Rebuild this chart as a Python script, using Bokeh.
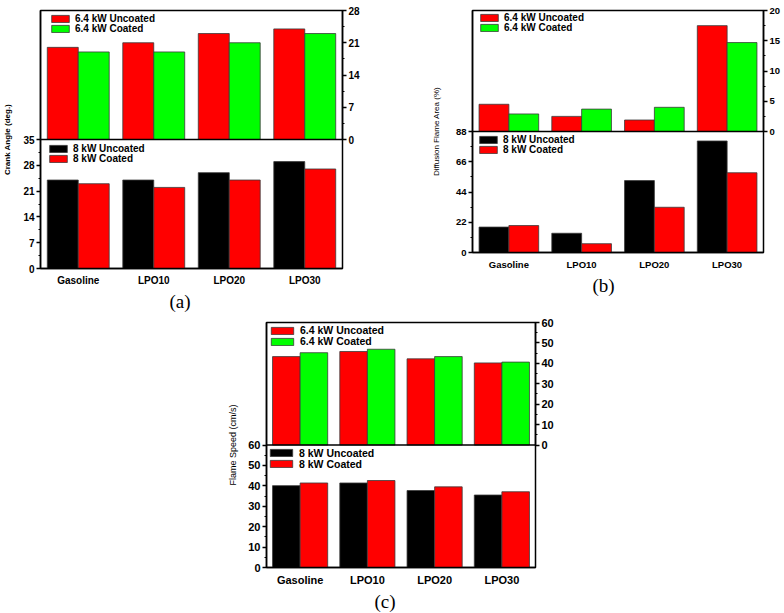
from bokeh.plotting import figure
from bokeh.models import (FactorRange, Range1d, LinearAxis, FixedTicker, Legend,
                          LegendItem, Span, Title, Spacer, ColumnDataSource)
from bokeh.transform import dodge
from bokeh.layouts import column, row
from bokeh.embed import file_html
from bokeh.resources import INLINE

fuels = ["Gasoline", "LPO10", "LPO20", "LPO30"]

# (a) Crank angle (deg.)
a_64_uncoated = [20, 21, 23, 24]
a_64_coated = [19, 19, 21, 23]
a_8_uncoated = [24, 24, 26, 29]
a_8_coated = [23, 22, 24, 27]
a_left_ticks = [0, 7, 14, 21, 28, 35]
a_right_ticks = [0, 7, 14, 21, 28]

# (b) Diffusion flame area (%)
b_64_uncoated = [4.5, 2.5, 1.9, 17.5]
b_64_coated = [2.9, 3.7, 4.0, 14.7]
b_8_uncoated = [18.5, 14.0, 52.3, 81.1]
b_8_coated = [19.6, 6.4, 32.9, 58.0]
b_left_ticks = [0, 22, 44, 66, 88]
b_right_ticks = [0, 5, 10, 15, 20]

# (c) Flame speed (cm/s)
c_64_uncoated = [43.3, 45.8, 42.2, 40.2]
c_64_coated = [45.2, 46.9, 43.3, 40.6]
c_8_uncoated = [40.1, 41.4, 37.7, 35.5]
c_8_coated = [41.4, 42.6, 39.5, 37.1]
c_left_ticks = [0, 10, 20, 30, 40, 50, 60]
c_right_ticks = [0, 10, 20, 30, 40, 50, 60]

legend_upper = ["6.4 kW Uncoated", "6.4 kW Coated"]
legend_lower = ["8 kW Uncoated", "8 kW Coated"]

FONT = "Liberation Sans"
RED = "#ff0000"
GREEN = "#00ff00"
BLACK = "#000000"
EDGE = "#3a3a3a"


def minors(ticks):
    return [(ticks[i] + ticks[i + 1]) / 2 for i in range(len(ticks) - 1)]


def style_axis(ax, font_px):
    ax.axis_line_width = 1.5
    ax.axis_line_color = "black"
    ax.major_tick_line_width = 1.5
    ax.major_tick_out = 4
    ax.major_tick_in = 0
    ax.minor_tick_line_width = 1.2
    ax.minor_tick_out = 2
    ax.minor_tick_in = 0
    ax.major_label_standoff = 2
    ax.major_label_text_font = FONT
    ax.major_label_text_font_style = "bold"
    ax.major_label_text_font_size = font_px
    ax.major_label_text_color = "black"


def panel(tag, ylabel, up_unc, up_coat, lo_unc, lo_coat, left_ticks, right_ticks,
          width, height, borders, tick_px, legend_px, row_h, pitch, glyph_w,
          ylabel_style, ylabel_px, ylabel_standoff, title_standoff, title_offset,
          leg_up, leg_lo):
    bl, br, bt, bb = borders
    frame_h = height - bt - bb
    left_max = left_ticks[-1]
    right_max = right_ticks[-1]
    p = figure(x_range=FactorRange(factors=fuels, range_padding=0),
               y_range=Range1d(0, 2 * left_max),
               width=width, height=height, output_backend="svg",
               toolbar_location=None,
               min_border_left=bl, min_border_right=br,
               min_border_top=bt, min_border_bottom=bb)
    p.extra_y_ranges = {"upper": Range1d(-right_max, right_max)}
    p.xgrid.visible = False
    p.ygrid.visible = False
    p.outline_line_color = "black"
    p.outline_line_width = 1.5
    p.background_fill_color = "white"
    p.border_fill_color = "white"

    src = ColumnDataSource(dict(fuel=fuels, up_unc=up_unc, up_coat=up_coat,
                                lo_unc=lo_unc, lo_coat=lo_coat))
    w = 0.41
    r_uu = p.vbar(x=dodge("fuel", -w / 2, range=p.x_range), top="up_unc", bottom=0,
                  width=w, source=src, y_range_name="upper",
                  fill_color=RED, line_color=EDGE, line_width=0.8)
    r_uc = p.vbar(x=dodge("fuel", w / 2, range=p.x_range), top="up_coat", bottom=0,
                  width=w, source=src, y_range_name="upper",
                  fill_color=GREEN, line_color=EDGE, line_width=0.8)
    r_lu = p.vbar(x=dodge("fuel", -w / 2, range=p.x_range), top="lo_unc", bottom=0,
                  width=w, source=src,
                  fill_color=BLACK, line_color=EDGE, line_width=0.8)
    r_lc = p.vbar(x=dodge("fuel", w / 2, range=p.x_range), top="lo_coat", bottom=0,
                  width=w, source=src,
                  fill_color=RED, line_color=EDGE, line_width=0.8)

    p.add_layout(Span(location=left_max, dimension="width",
                      line_color="black", line_width=1.5))

    # left axis (lower block)
    la = p.yaxis[0]
    la.ticker = FixedTicker(ticks=left_ticks, minor_ticks=minors(left_ticks))
    style_axis(la, tick_px)
    la.axis_label = ylabel
    la.axis_label_text_font = FONT
    la.axis_label_text_font_style = ylabel_style
    la.axis_label_text_font_size = ylabel_px
    la.axis_label_text_color = "black"
    la.axis_label_standoff = ylabel_standoff

    # right axis (upper block)
    ra = LinearAxis(y_range_name="upper",
                    ticker=FixedTicker(ticks=right_ticks, minor_ticks=minors(right_ticks)),
                    bounds=(0, right_max))
    style_axis(ra, tick_px)
    p.add_layout(ra, "right")

    xa = p.xaxis[0]
    style_axis(xa, tick_px)
    xa.major_tick_line_color = None

    def one_item(label, rend, x, top_from_frame_top):
        lg = Legend(items=[LegendItem(label=label, renderers=[rend])],
                    location=(x, frame_h - top_from_frame_top - row_h),
                    glyph_width=glyph_w, glyph_height=9,
                    label_height=row_h, label_standoff=4, spacing=0,
                    padding=0, margin=0,
                    border_line_color=None, background_fill_alpha=0,
                    label_text_font=FONT, label_text_font_style="bold",
                    label_text_font_size=legend_px, label_text_color="black")
        p.add_layout(lg)

    ux, uy = leg_up
    lx, ly = leg_lo
    one_item(legend_upper[0], r_uu, ux, uy)
    one_item(legend_upper[1], r_uc, ux, uy + pitch)
    one_item(legend_lower[0], r_lu, lx, frame_h / 2 + ly)
    one_item(legend_lower[1], r_lc, lx, frame_h / 2 + ly + pitch)

    p.add_layout(Title(text=tag, align="left", offset=title_offset,
                       text_font="Liberation Serif", text_font_style="normal",
                       text_font_size="19px", text_color="black",
                       standoff=title_standoff), "below")
    return p


# panel (a): frame x 38..342, y 10..268
pa = panel("(a)", "Crank Angle (deg.)", a_64_uncoated, a_64_coated, a_8_uncoated,
           a_8_coated, a_left_ticks, a_right_ticks, 367, 315, (38, 25, 10, 47),
           "10px", "10px", 12, 10, 22, "bold", "8px", 8, 1, 129, (9, 2), (7, 3))
# panel (b): frame x 468..763, y 9..252
pb = panel("(b)", "Diffusion Flame Area (%)", b_64_uncoated, b_64_coated, b_8_uncoated,
           b_8_coated, b_left_ticks, b_right_ticks, 355, 299, (40, 20, 9, 47),
           "9.5px", "10px", 12, 10, 22, "normal", "8px", 12, 0, 120, (6, 2), (5, 3))
# panel (c): frame x 266..535, y 322..567
pc = panel("(c)", "Flame Speed (cm/s)", c_64_uncoated, c_64_coated, c_8_uncoated,
           c_8_coated, c_left_ticks, c_right_ticks, 339, 297, (46, 24, 7, 45),
           "11px", "10.5px", 12, 11, 28, "normal", "9px", 7, 0, 108, (2, 2), (1, 2))

layout = column(row(pa, Spacer(width=61, height=10), pb),
                row(Spacer(width=220, height=10), pc))

open("out.html", "w").write(file_html(layout, INLINE))
